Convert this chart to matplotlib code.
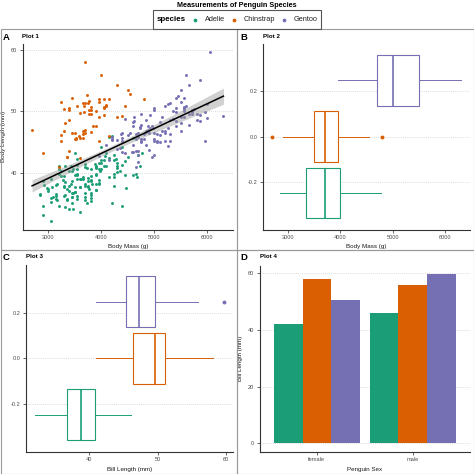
import numpy as np
import matplotlib
matplotlib.use("Agg")
import matplotlib.pyplot as plt
from matplotlib.patches import Rectangle

plt.rcParams['font.family'] = ['Liberation Sans', 'DejaVu Sans']

species = ["Adelie", "Chinstrap", "Gentoo"]
colors = {"Adelie": "#1B9E77", "Chinstrap": "#D95F02", "Gentoo": "#7570B3"}

# ---- scatter data: body mass (g), bill length (mm) ----
adelie_mass = [3750, 3800, 3250, 3450, 3650, 3625, 4675, 3475, 4250, 3300, 3700, 3200, 3800, 4400, 3700, 3450, 4500, 3325, 4200,
               3400, 3600, 3800, 3950, 3800, 3800, 3550, 3200, 3150, 3950, 3250, 3900, 3300, 3900, 3325, 4150, 3950, 3550, 3300, 4650,
               3150, 3900, 3100, 4400, 3000, 4600, 3425, 2975, 3450, 4150, 3500, 4300, 3450, 4050, 2900, 3700, 3550, 3800, 2850, 3750,
               3150, 4400, 3600, 4050, 2850, 3950, 3350, 4100, 3050, 4450, 3600, 3900, 3550, 4150, 3700, 4250, 3700, 3900, 3550, 4000,
               3200, 4700, 3800, 4200, 3350, 3550, 3800, 3500, 3950, 3600, 3550, 4300, 3400, 4450, 3300, 4300, 3700, 4350, 2900, 4100,
               3725, 4725, 3075, 4250, 2925, 3550, 3750, 3900, 3175, 4775, 3825, 4600, 3200, 4275, 3900, 4075, 2900, 3775, 3350, 3325,
               3150, 3500, 3450, 3875, 3050, 4000, 3275, 4300, 3050, 4000, 3325, 3500, 3500, 4475, 3425, 3900, 3175, 3975, 3400, 4250,
               3400, 3475, 3050, 3725, 3000, 3650, 4250, 3475, 3450, 3750, 3700, 4000]
adelie_bill = [39.1, 39.5, 40.3, 36.7, 39.3, 38.9, 39.2, 34.1, 42.0, 37.8, 37.8, 41.1, 38.6, 34.6, 36.6, 38.7, 42.5, 34.4, 46.0,
               37.8, 37.7, 35.9, 38.2, 38.8, 35.3, 40.6, 40.5, 37.9, 40.5, 39.5, 37.2, 39.5, 40.9, 36.4, 39.2, 38.8, 42.2, 37.6, 39.8,
               36.5, 40.8, 36.0, 44.1, 37.0, 39.6, 41.1, 37.5, 36.0, 42.3, 39.6, 40.1, 35.0, 42.0, 34.5, 41.4, 39.0, 40.6, 36.5, 37.6,
               35.7, 41.3, 37.6, 41.1, 36.4, 41.6, 35.5, 41.1, 35.9, 41.8, 33.5, 39.7, 39.6, 45.8, 35.5, 42.8, 40.9, 37.2, 36.2, 42.1,
               34.6, 42.9, 36.7, 35.1, 37.3, 41.3, 36.3, 36.9, 38.3, 38.9, 35.7, 41.1, 34.0, 39.6, 36.2, 40.8, 38.1, 40.3, 33.1, 43.2,
               35.0, 41.0, 37.7, 37.8, 37.9, 39.7, 38.6, 38.2, 38.1, 43.2, 38.1, 45.6, 39.7, 42.2, 39.6, 42.7, 38.6, 37.3, 35.7, 41.1,
               36.2, 37.7, 40.2, 41.4, 35.2, 40.6, 38.8, 41.5, 39.0, 44.1, 38.5, 43.1, 36.8, 37.5, 38.1, 41.1, 35.6, 40.2, 37.0, 39.7,
               40.2, 40.6, 32.1, 40.7, 37.3, 39.0, 39.2, 36.6, 36.0, 37.8, 36.0, 41.5]

chinstrap_mass = [3500, 3900, 3650, 3525, 3725, 3950, 3250, 3750, 4150, 3700, 3800, 3775, 3700, 4050, 3575, 4050, 3300, 3700,
                  3450, 4400, 3600, 3400, 2900, 3800, 3300, 4150, 3400, 3800, 3700, 4550, 3200, 4300, 3350, 4100, 3600, 3900,
                  3850, 4800, 2700, 4500, 3950, 3650, 3550, 3500, 3675, 4450, 3400, 4300, 3250, 3675, 3325, 3950, 3600, 4050,
                  3350, 3450, 3250, 4050, 3800, 3525, 3950, 3650, 3650, 4000, 3400, 3775, 4100, 3775]
chinstrap_bill = [46.5, 50.0, 51.3, 45.4, 52.7, 45.2, 46.1, 51.3, 46.0, 51.3, 46.6, 51.7, 47.0, 52.0, 45.9, 50.5, 50.3, 58.0,
                  46.4, 49.2, 42.4, 48.5, 43.2, 50.6, 46.7, 52.0, 50.5, 49.5, 46.4, 52.8, 40.9, 54.2, 42.5, 51.0, 49.7, 47.5,
                  47.6, 52.0, 46.9, 53.5, 49.0, 46.2, 50.9, 45.5, 50.9, 50.8, 50.1, 49.0, 51.5, 49.8, 48.1, 51.4, 45.7, 50.7,
                  42.5, 52.2, 45.2, 49.3, 50.2, 45.6, 51.9, 46.8, 45.7, 55.8, 43.5, 49.6, 50.8, 50.2]

gentoo_mass = [4500, 5700, 4450, 5700, 5400, 4550, 4800, 5200, 4400, 5150, 4650, 5550, 4650, 5850, 4200, 5850, 4150, 6300,
               4800, 5350, 5700, 5000, 4400, 5050, 5000, 5100, 4100, 5650, 4600, 5550, 5250, 4700, 5050, 6050, 5150, 5400,
               4950, 5250, 4350, 5350, 3950, 5700, 4300, 4750, 5550, 4900, 4200, 5400, 5100, 5300, 4850, 5300, 4400, 5000,
               4900, 5050, 4300, 5000, 4450, 5550, 4200, 5300, 4400, 5650, 4700, 5700, 4650, 5800, 4700, 5550, 4750, 5000,
               5100, 5200, 4700, 5800, 4600, 6000, 4750, 5950, 4625, 5450, 4725, 5350, 4750, 5600, 4600, 5300, 4875, 5550,
               4950, 5400, 4750, 5650, 4850, 5200, 4925, 4875, 4625, 5250, 4850, 5600, 4975, 5500, 4725, 5500, 4700, 5500,
               4575, 5500, 5000, 5950, 4650, 5500, 4375, 5850, 6000, 4925, 4850, 5750, 5200, 5400, 4600]
gentoo_bill = [46.1, 50.0, 48.7, 50.0, 47.6, 46.5, 45.4, 46.7, 43.3, 46.8, 40.9, 49.0, 45.5, 48.4, 45.8, 49.3, 42.0, 49.2,
               46.2, 48.7, 50.2, 45.1, 46.5, 46.3, 42.9, 46.1, 44.5, 47.8, 48.2, 50.0, 47.3, 42.8, 45.1, 59.6, 49.1, 48.4,
               42.6, 44.4, 44.0, 48.7, 42.7, 49.6, 45.3, 49.6, 50.5, 43.6, 45.5, 50.5, 44.9, 45.2, 46.6, 48.5, 45.1, 50.1,
               46.5, 45.0, 43.8, 45.5, 43.2, 50.4, 45.3, 46.2, 45.7, 54.3, 45.8, 49.8, 46.2, 49.5, 43.5, 50.7, 47.7, 46.4,
               48.2, 46.5, 46.4, 48.6, 47.5, 51.1, 45.2, 45.2, 49.1, 52.5, 47.4, 50.0, 44.9, 50.8, 43.4, 51.3, 47.5, 52.1,
               47.5, 52.2, 45.5, 49.5, 44.5, 50.8, 49.4, 46.9, 48.4, 51.1, 48.5, 55.9, 47.2, 49.1, 47.3, 46.8, 41.7, 53.4,
               43.3, 48.1, 50.5, 49.8, 43.5, 51.5, 46.2, 55.1, 48.8, 47.2, 46.8, 50.4, 45.2, 49.9, 44.5]

# ---- box plot summary statistics (whisker low, Q1, median, Q3, whisker high, outliers) ----
mass_box = {
    "Adelie": (2850, 3350, 3700, 4000, 4775, []),
    "Chinstrap": (2900, 3487.5, 3700, 3950, 4550, [2700, 4800]),
    "Gentoo": (3950, 4700, 5000, 5500, 6300, []),
}
bill_box = {
    "Adelie": (32.1, 36.75, 38.8, 40.75, 46.0, []),
    "Chinstrap": (40.9, 46.35, 49.55, 51.075, 58.0, []),
    "Gentoo": (40.9, 45.3, 47.3, 49.55, 55.9, [59.6]),
}

# ---- bar chart: max bill length by sex ----
sexes = ["female", "male"]
bar_vals = {
    "Adelie": [42.2, 46.0],
    "Chinstrap": [58.0, 55.8],
    "Gentoo": [50.5, 59.6],
}

W = H = 474
fig = plt.figure(figsize=(4.74, 4.74), dpi=100)

def fx(px):
    return px / W

def fy(py):
    return 1 - py / H

def ax_px(x0, y0, x1, y1):
    return fig.add_axes([x0 / W, 1 - y1 / H, (x1 - x0) / W, (y1 - y0) / H])

TXT = "#1A1A1A"
TICK_FS = 4.1
LAB_FS = 4.5

def style(ax, xlab_off, ylab_off=None):
    for s in ["top", "right"]:
        ax.spines[s].set_visible(False)
    for s in ["left", "bottom"]:
        ax.spines[s].set_color("#333333")
        ax.spines[s].set_linewidth(0.8)
    ax.tick_params(labelsize=TICK_FS, colors="#4D4D4D", length=2.0, width=0.6, pad=1.8)
    ax.grid(axis="y", color="#D0D0D0", linestyle=(0, (1, 1.5)), linewidth=0.6)
    ax.set_axisbelow(True)
    bb = ax.get_position()
    hpx = bb.height * H
    wpx = bb.width * W
    ax.xaxis.set_label_coords(0.5, -xlab_off / hpx)
    if ylab_off is not None:
        ax.yaxis.set_label_coords(-ylab_off / wpx, 0.5)

# panel borders
for (x0, y0, x1, y1) in [(0.5, 29, 236.5, 250), (236.5, 29, 473.5, 250), (0.5, 250, 236.5, 473.5), (236.5, 250, 473.5, 473.5)]:
    fig.add_artist(Rectangle((fx(x0), fy(y1)), (x1 - x0) / W, (y1 - y0) / H, transform=fig.transFigure,
                             fill=False, edgecolor="#9A9A9A", linewidth=0.8))

# ---------- Plot 1 ----------
ax1 = ax_px(22.5, 43.5, 233, 229.7)
for sp, m, b in [("Adelie", adelie_mass, adelie_bill), ("Chinstrap", chinstrap_mass, chinstrap_bill), ("Gentoo", gentoo_mass, gentoo_bill)]:
    ax1.scatter(m, b, s=4.5, color=colors[sp], linewidths=0, zorder=3)
all_m = np.array(adelie_mass + chinstrap_mass + gentoo_mass, float)
all_b = np.array(adelie_bill + chinstrap_bill + gentoo_bill, float)
n = len(all_m)
slope, intercept = np.polyfit(all_m, all_b, 1)
xs = np.linspace(all_m.min(), all_m.max(), 80)
ys = intercept + slope * xs
resid = all_b - (intercept + slope * all_m)
s_err = np.sqrt(np.sum(resid ** 2) / (n - 2))
se = s_err * np.sqrt(1 / n + (xs - all_m.mean()) ** 2 / np.sum((all_m - all_m.mean()) ** 2))
tval = 1.967
ax1.fill_between(xs, ys - tval * se, ys + tval * se, color="#999999", alpha=0.45, linewidth=0, zorder=4)
ax1.plot(xs, ys, color="black", linewidth=1.1, zorder=5)
ax1.set_xlim(2520, 6480)
ax1.set_ylim(30.7, 61.0)
ax1.set_xticks([3000, 4000, 5000, 6000])
ax1.set_yticks([40, 50, 60])
ax1.set_xlabel("Body Mass (g)", fontsize=LAB_FS, color=TXT)
ax1.set_ylabel("Body Length (mm)", fontsize=LAB_FS, color=TXT)
style(ax1, 14.5, 16.5)

# ---------- box plot helper ----------
positions = [-0.25, 0.0, 0.25]

def draw_box(ax, data):
    for sp, pos in zip(species, positions):
        wl, q1, med, q3, wh, fl = data[sp]
        st = [dict(whislo=wl, q1=q1, med=med, q3=q3, whishi=wh, fliers=fl, label=sp)]
        c = colors[sp]
        ax.bxp(st, positions=[pos], widths=0.225, vert=False, showcaps=False, patch_artist=True,
               boxprops=dict(facecolor="white", edgecolor=c, linewidth=0.8),
               medianprops=dict(color=c, linewidth=1.2),
               whiskerprops=dict(color=c, linewidth=0.7),
               flierprops=dict(marker="o", markerfacecolor=c, markeredgecolor=c, markersize=1.8))
    ax.set_ylim(-0.4125, 0.4125)
    ax.set_yticks([-0.2, 0.0, 0.2])
    ax.set_yticklabels(["-0.2", "0.0", "0.2"])

# ---------- Plot 2 ----------
ax2 = ax_px(263, 43.5, 470, 229.7)
draw_box(ax2, mass_box)
ax2.set_xlim(2520, 6480)
ax2.set_xticks([3000, 4000, 5000, 6000])
ax2.set_xticklabels(["3000", "4000", "5000", "6000"])
ax2.set_xlabel("Body Mass (g)", fontsize=LAB_FS, color=TXT)
style(ax2, 14.5)

# ---------- Plot 3 ----------
ax3 = ax_px(26, 265, 233, 451.7)
draw_box(ax3, bill_box)
ax3.set_xlim(30.725, 60.975)
ax3.set_xticks([40, 50, 60])
ax3.set_xticklabels(["40", "50", "60"])
ax3.set_xlabel("Bill Length (mm)", fontsize=LAB_FS, color=TXT)
style(ax3, 15.5)

# ---------- Plot 4 ----------
ax4 = ax_px(259.5, 266, 470, 451.7)
xpos = np.arange(1, len(sexes) + 1)
bw = 0.3
for i, sp in enumerate(species):
    ax4.bar(xpos + (i - 1) * bw, bar_vals[sp], width=bw, color=colors[sp], zorder=3)
ax4.set_xlim(0.4, 2.6)
ax4.set_ylim(-2.98, 62.58)
ax4.set_xticks(xpos)
ax4.set_xticklabels(sexes)
ax4.set_yticks([0, 20, 40, 60])
ax4.set_xlabel("Penguin Sex", fontsize=LAB_FS, color=TXT)
ax4.set_ylabel("Bill Length (mm)", fontsize=LAB_FS, color=TXT)
style(ax4, 15.5, 16.5)

# ---------- panel tags and subtitles ----------
for tag, tx, ty, title, sx in [("A", 3, 37.5, "Plot 1", 22.5), ("B", 240, 37.5, "Plot 2", 263),
                               ("C", 3, 258, "Plot 3", 26), ("D", 240, 258, "Plot 4", 259.5)]:
    fig.text(fx(tx), fy(ty), tag, fontsize=6.8, fontweight="bold", color="black", va="center", ha="left")
    fig.text(fx(sx), fy(ty - 1), title, fontsize=4.4, fontweight="bold", color="black", va="center", ha="left")

# ---------- title and legend (drawn manually) ----------
fig.text(0.5, fy(5.5), "Measurements of Penguin Species", fontsize=5.2, fontweight="bold",
         ha="center", va="center", color="black")
fig.add_artist(Rectangle((fx(152.7), fy(29.3)), (321 - 152.7) / W, (29.3 - 9.5) / H, transform=fig.transFigure,
                         fill=False, edgecolor="#555555", linewidth=0.8))
legend_y = fy(19.5)
fig.text(fx(156.5), legend_y, "species", fontsize=5.7, fontweight="bold", ha="left", va="center", color="black")
for sp, dot_x, txt_x in zip(species, [195, 234.3, 284.3], [205, 243.7, 293.3]):
    fig.add_artist(plt.Line2D([fx(dot_x)], [legend_y], marker="o", markersize=1.7, color=colors[sp],
                              linestyle="", transform=fig.transFigure))
    fig.text(fx(txt_x), legend_y, sp, fontsize=5.3, ha="left", va="center", color="#222222")

fig.savefig("out.png", dpi=100)
